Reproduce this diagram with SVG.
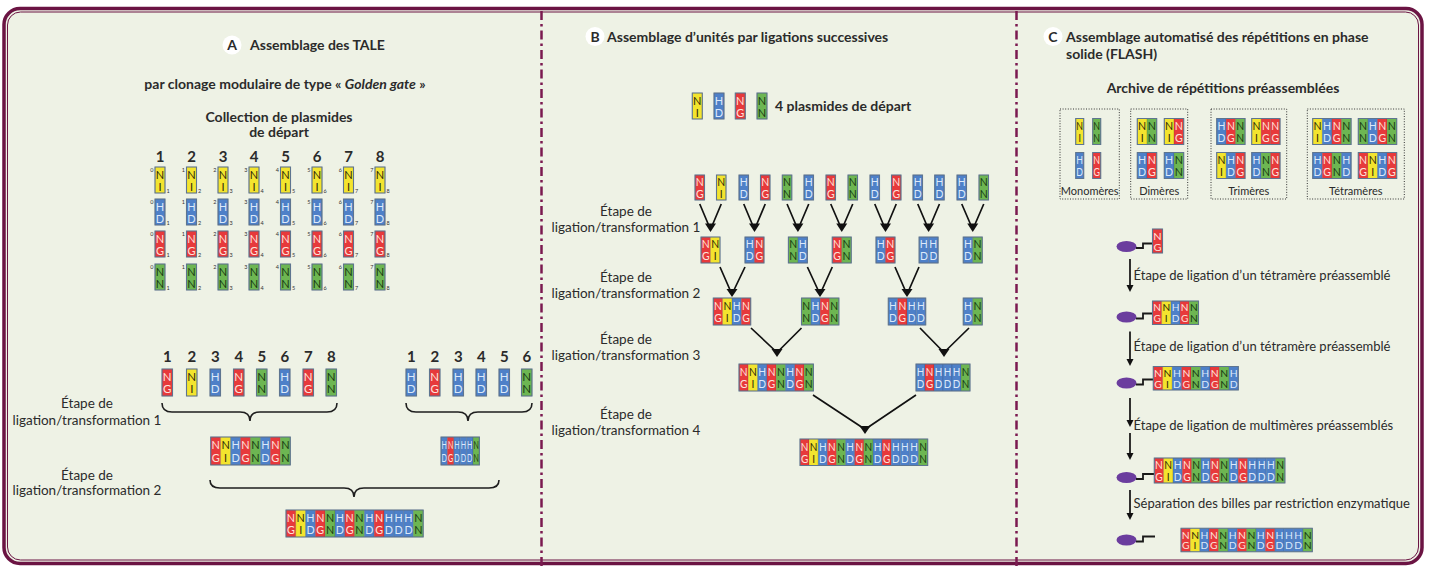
<svg xmlns="http://www.w3.org/2000/svg" xmlns:xlink="http://www.w3.org/1999/xlink" width="1431" height="567" viewBox="0 0 1431 567">
<style>
.cy{fill:#f3e42e}.cb{fill:#4e80c8}.cr{fill:#e7393b}.cg{fill:#6db652}
.cy,.cb,.cr,.cg{stroke:#000;stroke-opacity:.18;stroke-width:.6;vector-effect:non-scaling-stroke}
.ly,.lb,.lr,.lg{font-family:Lato,"Liberation Sans",sans-serif;font-size:11px;text-anchor:middle}
.ly{fill:#2f2b0c}.lb{fill:#dce9f9}.lr{fill:#fde2dc}.lg{fill:#183a12}
.ol{fill:none;stroke:#5e7590;stroke-width:1.1;vector-effect:non-scaling-stroke}
.t{font-family:Lato,"Liberation Sans",sans-serif;fill:#2b2b2b}
.h{font-weight:700;font-size:14px}
.lbl{font-size:13.5px;text-anchor:middle}
.num{font-weight:700;font-size:15px;text-anchor:middle}
.sl,.sr{font-family:Lato,"Liberation Sans",sans-serif;font-size:5.5px;fill:#333}
.sl{text-anchor:end}
.cap{font-size:11px;text-anchor:middle}
.step{font-size:13px}
.br{fill:none;stroke:#1e1e1e;stroke-width:1.6}
.ar{stroke:#111;stroke-width:1.7;fill:none}
.ah{fill:#111}
.dot{fill:none;stroke:#333;stroke-width:1;stroke-dasharray:1 1.6}
.bead{fill:#6b3d9e}
.lnk{fill:none;stroke:#1a1a1a;stroke-width:1.8}
.div{stroke:#7b1a50;stroke-width:2.5;stroke-dasharray:9 4 2.5 4}
.badge{fill:#fff}
</style>
<defs>
<g id="NI"><rect class="cy" width="10" height="26"/><text class="ly" x="5" y="11.5">N</text><text class="ly" x="5" y="23.5">I</text></g>
<g id="HD"><rect class="cb" width="10" height="26"/><text class="lb" x="5" y="11.5">H</text><text class="lb" x="5" y="23.5">D</text></g>
<g id="NG"><rect class="cr" width="10" height="26"/><text class="lr" x="5" y="11.5">N</text><text class="lr" x="5" y="23.5">G</text></g>
<g id="NN"><rect class="cg" width="10" height="26"/><text class="lg" x="5" y="11.5">N</text><text class="lg" x="5" y="23.5">N</text></g>
<g id="bNI"><use href="#NI"/><rect class="ol" width="10" height="26"/></g>
<g id="bHD"><use href="#HD"/><rect class="ol" width="10" height="26"/></g>
<g id="bNG"><use href="#NG"/><rect class="ol" width="10" height="26"/></g>
<g id="bNN"><use href="#NN"/><rect class="ol" width="10" height="26"/></g>
</defs>

<!-- page and frame -->
<rect width="1431" height="567" fill="#ffffff"/>
<rect x="4" y="8.5" width="1418" height="555" rx="16" fill="#eef2e5" stroke="#6b1443" stroke-width="3.5"/>
<rect x="7.5" y="12" width="1411" height="548" rx="13" fill="none" stroke="#6b1443" stroke-width="1"/>
<line class="div" x1="541.5" y1="11" x2="541.5" y2="567"/>
<line class="div" x1="1016.5" y1="11" x2="1016.5" y2="567"/>

<!-- ===== Panel A ===== -->
<g id="a-title" class="t">
<circle class="badge" cx="232" cy="45" r="9.5"/>
<text class="h" x="232" y="50" text-anchor="middle">A</text>
<text class="h" x="250" y="50">Assemblage des TALE</text>
<text class="h" x="285" y="89" text-anchor="middle">par clonage modulaire de type « <tspan font-style="italic">Golden gate</tspan> »</text>
<text class="h" x="279" y="122" text-anchor="middle" font-size="14.5">Collection de plasmides</text>
<text class="h" x="279" y="137" text-anchor="middle" font-size="14.5">de départ</text>
</g>

<g id="a-collection" class="t">
<g id="a-pos1"><text class="num" x="160" y="162">1</text>
<g transform="translate(155 167)"><use href="#bNI"/><text class="sl" x="-1.5" y="5">0</text><text class="sr" x="11.5" y="26">1</text></g>
<g transform="translate(155 199)"><use href="#bHD"/><text class="sl" x="-1.5" y="5">0</text><text class="sr" x="11.5" y="26">1</text></g>
<g transform="translate(155 231)"><use href="#bNG"/><text class="sl" x="-1.5" y="5">0</text><text class="sr" x="11.5" y="26">1</text></g>
<g transform="translate(155 264)"><use href="#bNN"/><text class="sl" x="-1.5" y="5">0</text><text class="sr" x="11.5" y="26">1</text></g></g>
<g id="a-pos2"><text class="num" x="191.5" y="162">2</text>
<g transform="translate(186.5 167)"><use href="#bNI"/><text class="sl" x="-1.5" y="5">1</text><text class="sr" x="11.5" y="26">2</text></g>
<g transform="translate(186.5 199)"><use href="#bHD"/><text class="sl" x="-1.5" y="5">1</text><text class="sr" x="11.5" y="26">2</text></g>
<g transform="translate(186.5 231)"><use href="#bNG"/><text class="sl" x="-1.5" y="5">1</text><text class="sr" x="11.5" y="26">2</text></g>
<g transform="translate(186.5 264)"><use href="#bNN"/><text class="sl" x="-1.5" y="5">1</text><text class="sr" x="11.5" y="26">2</text></g></g>
<g id="a-pos3"><text class="num" x="223" y="162">3</text>
<g transform="translate(218 167)"><use href="#bNI"/><text class="sl" x="-1.5" y="5">2</text><text class="sr" x="11.5" y="26">3</text></g>
<g transform="translate(218 199)"><use href="#bHD"/><text class="sl" x="-1.5" y="5">2</text><text class="sr" x="11.5" y="26">3</text></g>
<g transform="translate(218 231)"><use href="#bNG"/><text class="sl" x="-1.5" y="5">2</text><text class="sr" x="11.5" y="26">3</text></g>
<g transform="translate(218 264)"><use href="#bNN"/><text class="sl" x="-1.5" y="5">2</text><text class="sr" x="11.5" y="26">3</text></g></g>
<g id="a-pos4"><text class="num" x="254" y="162">4</text>
<g transform="translate(249 167)"><use href="#bNI"/><text class="sl" x="-1.5" y="5">3</text><text class="sr" x="11.5" y="26">4</text></g>
<g transform="translate(249 199)"><use href="#bHD"/><text class="sl" x="-1.5" y="5">3</text><text class="sr" x="11.5" y="26">4</text></g>
<g transform="translate(249 231)"><use href="#bNG"/><text class="sl" x="-1.5" y="5">3</text><text class="sr" x="11.5" y="26">4</text></g>
<g transform="translate(249 264)"><use href="#bNN"/><text class="sl" x="-1.5" y="5">3</text><text class="sr" x="11.5" y="26">4</text></g></g>
<g id="a-pos5"><text class="num" x="285.5" y="162">5</text>
<g transform="translate(280.5 167)"><use href="#bNI"/><text class="sl" x="-1.5" y="5">4</text><text class="sr" x="11.5" y="26">5</text></g>
<g transform="translate(280.5 199)"><use href="#bHD"/><text class="sl" x="-1.5" y="5">4</text><text class="sr" x="11.5" y="26">5</text></g>
<g transform="translate(280.5 231)"><use href="#bNG"/><text class="sl" x="-1.5" y="5">4</text><text class="sr" x="11.5" y="26">5</text></g>
<g transform="translate(280.5 264)"><use href="#bNN"/><text class="sl" x="-1.5" y="5">4</text><text class="sr" x="11.5" y="26">5</text></g></g>
<g id="a-pos6"><text class="num" x="317" y="162">6</text>
<g transform="translate(312 167)"><use href="#bNI"/><text class="sl" x="-1.5" y="5">5</text><text class="sr" x="11.5" y="26">6</text></g>
<g transform="translate(312 199)"><use href="#bHD"/><text class="sl" x="-1.5" y="5">5</text><text class="sr" x="11.5" y="26">6</text></g>
<g transform="translate(312 231)"><use href="#bNG"/><text class="sl" x="-1.5" y="5">5</text><text class="sr" x="11.5" y="26">6</text></g>
<g transform="translate(312 264)"><use href="#bNN"/><text class="sl" x="-1.5" y="5">5</text><text class="sr" x="11.5" y="26">6</text></g></g>
<g id="a-pos7"><text class="num" x="348.5" y="162">7</text>
<g transform="translate(343.5 167)"><use href="#bNI"/><text class="sl" x="-1.5" y="5">6</text><text class="sr" x="11.5" y="26">7</text></g>
<g transform="translate(343.5 199)"><use href="#bHD"/><text class="sl" x="-1.5" y="5">6</text><text class="sr" x="11.5" y="26">7</text></g>
<g transform="translate(343.5 231)"><use href="#bNG"/><text class="sl" x="-1.5" y="5">6</text><text class="sr" x="11.5" y="26">7</text></g>
<g transform="translate(343.5 264)"><use href="#bNN"/><text class="sl" x="-1.5" y="5">6</text><text class="sr" x="11.5" y="26">7</text></g></g>
<g id="a-pos8"><text class="num" x="380" y="162">8</text>
<g transform="translate(375 167)"><use href="#bNI"/><text class="sl" x="-1.5" y="5">7</text><text class="sr" x="11.5" y="26">8</text></g>
<g transform="translate(375 199)"><use href="#bHD"/><text class="sl" x="-1.5" y="5">7</text><text class="sr" x="11.5" y="26">8</text></g>
<g transform="translate(375 231)"><use href="#bNG"/><text class="sl" x="-1.5" y="5">7</text><text class="sr" x="11.5" y="26">8</text></g>
<g transform="translate(375 264)"><use href="#bNN"/><text class="sl" x="-1.5" y="5">7</text><text class="sr" x="11.5" y="26">8</text></g></g>
</g>

<!-- selected modules, first array (1-8) -->
<g id="a-set1" class="t">
<text class="num" x="167.3" y="362">1</text><use href="#bNG" transform="translate(162 369) scale(1.05 1.04)"/>
<text class="num" x="191.8" y="362">2</text><use href="#bNI" transform="translate(186.5 369) scale(1.05 1.04)"/>
<text class="num" x="215.3" y="362">3</text><use href="#bHD" transform="translate(210 369) scale(1.05 1.04)"/>
<text class="num" x="238.8" y="362">4</text><use href="#bNG" transform="translate(233.5 369) scale(1.05 1.04)"/>
<text class="num" x="261.8" y="362">5</text><use href="#bNN" transform="translate(256.5 369) scale(1.05 1.04)"/>
<text class="num" x="284.8" y="362">6</text><use href="#bHD" transform="translate(279.5 369) scale(1.05 1.04)"/>
<text class="num" x="308.3" y="362">7</text><use href="#bNG" transform="translate(303 369) scale(1.05 1.04)"/>
<text class="num" x="331.3" y="362">8</text><use href="#bNN" transform="translate(326 369) scale(1.05 1.04)"/>
</g>
<!-- selected modules, second array (1-6) -->
<g id="a-set2" class="t">
<text class="num" x="411.3" y="362">1</text><use href="#bHD" transform="translate(406 369) scale(1.05 1.04)"/>
<text class="num" x="434.8" y="362">2</text><use href="#bNG" transform="translate(429.5 369) scale(1.05 1.04)"/>
<text class="num" x="458.3" y="362">3</text><use href="#bHD" transform="translate(453 369) scale(1.05 1.04)"/>
<text class="num" x="481.3" y="362">4</text><use href="#bHD" transform="translate(476 369) scale(1.05 1.04)"/>
<text class="num" x="504.3" y="362">5</text><use href="#bHD" transform="translate(499 369) scale(1.05 1.04)"/>
<text class="num" x="526.8" y="362">6</text><use href="#bNN" transform="translate(521.5 369) scale(1.05 1.04)"/>
</g>

<g id="a-array1" transform="translate(210.7 437) scale(0.995 1.077)">
<use href="#NG"/><use href="#NI" x="10"/><use href="#HD" x="20"/><use href="#NG" x="30"/><use href="#NN" x="40"/><use href="#HD" x="50"/><use href="#NG" x="60"/><use href="#NN" x="70"/>
<rect class="ol" width="80" height="26"/></g>
<g id="a-array2" transform="translate(441 437) scale(0.64 1.077)">
<use href="#HD"/><use href="#NG" x="10"/><use href="#HD" x="20"/><use href="#HD" x="30"/><use href="#HD" x="40"/><use href="#NN" x="50"/>
<rect class="ol" width="60" height="26"/></g>
<g id="a-final" transform="translate(286 510) scale(0.98 1.0385)">
<use href="#NG"/><use href="#NI" x="10"/><use href="#HD" x="20"/><use href="#NG" x="30"/><use href="#NN" x="40"/><use href="#HD" x="50"/><use href="#NG" x="60"/><use href="#NN" x="70"/><use href="#HD" x="80"/><use href="#NG" x="90"/><use href="#HD" x="100"/><use href="#HD" x="110"/><use href="#HD" x="120"/><use href="#NN" x="130"/>
<rect class="ol" width="140" height="26"/></g>

<g id="a-steps" class="t">
<text class="lbl" x="87" y="408">Étape de</text>
<text class="lbl" x="87" y="424.5">ligation/transformation 1</text>
<text class="lbl" x="87" y="479.5">Étape de</text>
<text class="lbl" x="87" y="494.5">ligation/transformation 2</text>
</g>

<!-- ===== Panel B ===== -->
<g id="b-title" class="t">
<circle class="badge" cx="595" cy="36.5" r="9.5"/>
<text class="h" x="595" y="41.5" text-anchor="middle">B</text>
<text class="h" x="607" y="41.5" font-size="14.3">Assemblage d’unités par ligations successives</text>
</g>
<g id="b-start" class="t">
<use href="#bNI" x="692.3" y="93"/><use href="#bHD" x="714" y="93"/><use href="#bNG" x="735.3" y="93"/><use href="#bNN" x="757" y="93"/>
<text class="h" x="775" y="111">4 plasmides de départ</text>
</g>
<g id="b-steps" class="t">
<text class="lbl" x="626" y="216">Étape de</text><text class="lbl" x="626" y="232">ligation/transformation 1</text>
<text class="lbl" x="626" y="282">Étape de</text><text class="lbl" x="626" y="298">ligation/transformation 2</text>
<text class="lbl" x="626" y="344">Étape de</text><text class="lbl" x="626" y="360">ligation/transformation 3</text>
<text class="lbl" x="626" y="419">Étape de</text><text class="lbl" x="626" y="435">ligation/transformation 4</text>
</g>
<g id="b-row0">
<use href="#bNG" transform="translate(695 175) scale(.95 .9615)"/>
<use href="#bNI" transform="translate(716.5 175) scale(.95 .9615)"/>
<use href="#bHD" transform="translate(739 175) scale(.95 .9615)"/>
<use href="#bNG" transform="translate(760.5 175) scale(.95 .9615)"/>
<use href="#bNN" transform="translate(782.3 175) scale(.95 .9615)"/>
<use href="#bHD" transform="translate(804 175) scale(.95 .9615)"/>
<use href="#bNG" transform="translate(826 175) scale(.95 .9615)"/>
<use href="#bNN" transform="translate(848 175) scale(.95 .9615)"/>
<use href="#bHD" transform="translate(870 175) scale(.95 .9615)"/>
<use href="#bNG" transform="translate(891.5 175) scale(.95 .9615)"/>
<use href="#bHD" transform="translate(913 175) scale(.95 .9615)"/>
<use href="#bHD" transform="translate(934.7 175) scale(.95 .9615)"/>
<use href="#bHD" transform="translate(957 175) scale(.95 .9615)"/>
<use href="#bNN" transform="translate(979 175) scale(.95 .9615)"/>
</g>
<g id="b-l1-1" transform="translate(701 237) scale(.95 1)"><use href="#NG"/><use href="#NI" x="10"/><rect class="ol" width="20" height="26"/></g>
<g id="b-l1-2" transform="translate(745 237) scale(.95 1)"><use href="#HD"/><use href="#NG" x="10"/><rect class="ol" width="20" height="26"/></g>
<g id="b-l1-3" transform="translate(788.4 237) scale(.95 1)"><use href="#NN"/><use href="#HD" x="10"/><rect class="ol" width="20" height="26"/></g>
<g id="b-l1-4" transform="translate(832.25 237) scale(.95 1)"><use href="#NG"/><use href="#NN" x="10"/><rect class="ol" width="20" height="26"/></g>
<g id="b-l1-5" transform="translate(876 237) scale(.95 1)"><use href="#HD"/><use href="#NG" x="10"/><rect class="ol" width="20" height="26"/></g>
<g id="b-l1-6" transform="translate(919.1 237) scale(.95 1)"><use href="#HD"/><use href="#HD" x="10"/><rect class="ol" width="20" height="26"/></g>
<g id="b-l1-7" transform="translate(963.25 237) scale(.95 1)"><use href="#HD"/><use href="#NN" x="10"/><rect class="ol" width="20" height="26"/></g>
<g id="b-l2-1" transform="translate(713.3 298) scale(.935 1.0385)"><use href="#NG"/><use href="#NI" x="10"/><use href="#HD" x="20"/><use href="#NG" x="30"/><rect class="ol" width="40" height="26"/></g>
<g id="b-l2-2" transform="translate(801.5 298) scale(.935 1.0385)"><use href="#NN"/><use href="#HD" x="10"/><use href="#NG" x="20"/><use href="#NN" x="30"/><rect class="ol" width="40" height="26"/></g>
<g id="b-l2-3" transform="translate(888.3 298) scale(.935 1.0385)"><use href="#HD"/><use href="#NG" x="10"/><use href="#HD" x="20"/><use href="#HD" x="30"/><rect class="ol" width="40" height="26"/></g>
<g id="b-l2-4" transform="translate(963.25 298) scale(.95 1.0385)"><use href="#HD"/><use href="#NN" x="10"/><rect class="ol" width="20" height="26"/></g>
<g id="b-l3-1" transform="translate(739 364) scale(.93 1.0385)"><use href="#NG"/><use href="#NI" x="10"/><use href="#HD" x="20"/><use href="#NG" x="30"/><use href="#NN" x="40"/><use href="#HD" x="50"/><use href="#NG" x="60"/><use href="#NN" x="70"/><rect class="ol" width="80" height="26"/></g>
<g id="b-l3-2" transform="translate(916 364) scale(.9 1.0385)"><use href="#HD"/><use href="#NG" x="10"/><use href="#HD" x="20"/><use href="#HD" x="30"/><use href="#HD" x="40"/><use href="#NN" x="50"/><rect class="ol" width="60" height="26"/></g>
<g id="b-final" transform="translate(800 439) scale(.912 1.019)">
<use href="#NG"/><use href="#NI" x="10"/><use href="#HD" x="20"/><use href="#NG" x="30"/><use href="#NN" x="40"/><use href="#HD" x="50"/><use href="#NG" x="60"/><use href="#NN" x="70"/><use href="#HD" x="80"/><use href="#NG" x="90"/><use href="#HD" x="100"/><use href="#HD" x="110"/><use href="#HD" x="120"/><use href="#NN" x="130"/>
<rect class="ol" width="140" height="26"/></g>

<!-- ===== Panel C ===== -->
<g id="c-title" class="t">
<circle class="badge" cx="1053" cy="36.5" r="9.5"/>
<text class="h" x="1053" y="41.5" text-anchor="middle">C</text>
<text class="h" x="1066" y="41.5">Assemblage automatisé des répétitions en phase</text>
<text class="h" x="1066" y="59">solide (FLASH)</text>
<text class="h" x="1223" y="93" text-anchor="middle">Archive de répétitions préassemblées</text>
</g>
<g id="c-mono" class="t">
<rect class="dot" x="1060" y="109" width="59.3" height="90"/>
<use href="#bNI" transform="translate(1075.7 118.5) scale(.8 1)"/>
<use href="#bNN" transform="translate(1092.7 118.5) scale(.8 1)"/>
<use href="#bHD" transform="translate(1075.7 152.5) scale(.8 1)"/>
<use href="#bNG" transform="translate(1092.7 152.5) scale(.8 1)"/>
<text class="cap" x="1089.7" y="194.5">Monomères</text>
</g>
<g id="c-di" class="t">
<rect class="dot" x="1130.7" y="109" width="57" height="90"/>
<g transform="translate(1137.3 118.5) scale(.97 1)"><use href="#NI"/><use href="#NN" x="10"/><rect class="ol" width="20" height="26"/></g>
<g transform="translate(1164.3 118.5) scale(.97 1)"><use href="#NI"/><use href="#NG" x="10"/><rect class="ol" width="20" height="26"/></g>
<g transform="translate(1137.3 152.5) scale(.97 1)"><use href="#HD"/><use href="#NG" x="10"/><rect class="ol" width="20" height="26"/></g>
<g transform="translate(1164.3 152.5) scale(.97 1)"><use href="#HD"/><use href="#NN" x="10"/><rect class="ol" width="20" height="26"/></g>
<text class="cap" x="1159.2" y="194.5">Dimères</text>
</g>
<g id="c-tri" class="t">
<rect class="dot" x="1211" y="109" width="75.7" height="90"/>
<g transform="translate(1216.7 118.5) scale(.945 1)"><use href="#HD"/><use href="#NG" x="10"/><use href="#NN" x="20"/><rect class="ol" width="30" height="26"/></g>
<g transform="translate(1251.7 118.5) scale(.945 1)"><use href="#NI"/><use href="#NG" x="10"/><use href="#NG" x="20"/><rect class="ol" width="30" height="26"/></g>
<g transform="translate(1216.7 152.5) scale(.945 1)"><use href="#NI"/><use href="#HD" x="10"/><use href="#NG" x="20"/><rect class="ol" width="30" height="26"/></g>
<g transform="translate(1251.7 152.5) scale(.945 1)"><use href="#HD"/><use href="#NN" x="10"/><use href="#NG" x="20"/><rect class="ol" width="30" height="26"/></g>
<text class="cap" x="1248.8" y="194.5">Trimères</text>
</g>
<g id="c-tetra" class="t">
<rect class="dot" x="1307.3" y="109" width="97" height="90"/>
<g transform="translate(1312.7 118.5) scale(.96 1)"><use href="#NI"/><use href="#HD" x="10"/><use href="#NG" x="20"/><use href="#NN" x="30"/><rect class="ol" width="40" height="26"/></g>
<g transform="translate(1358.3 118.5) scale(.96 1)"><use href="#NN"/><use href="#HD" x="10"/><use href="#NG" x="20"/><use href="#NN" x="30"/><rect class="ol" width="40" height="26"/></g>
<g transform="translate(1312.7 152.5) scale(.96 1)"><use href="#HD"/><use href="#NG" x="10"/><use href="#NN" x="20"/><use href="#HD" x="30"/><rect class="ol" width="40" height="26"/></g>
<g transform="translate(1358.3 152.5) scale(.96 1)"><use href="#NG"/><use href="#NI" x="10"/><use href="#HD" x="20"/><use href="#NG" x="30"/><rect class="ol" width="40" height="26"/></g>
<text class="cap" x="1355.8" y="194.5">Tétramères</text>
</g>

<!-- beads with growing arrays -->
<g id="c-bead1">
<ellipse class="bead" cx="1126.5" cy="246.5" rx="10" ry="5.5"/>
<path class="lnk" d="M1136 248H1143V243.5H1153"/>
<use href="#bNG" transform="translate(1152.5 229) scale(1 .923)"/>
</g>
<g id="c-bead2">
<ellipse class="bead" cx="1126.5" cy="317" rx="10" ry="5.5"/>
<path class="lnk" d="M1136 318.5H1143V313.5H1153"/>
<g transform="translate(1152.5 301) scale(.92 .904)"><use href="#NG"/><use href="#NI" x="10"/><use href="#HD" x="20"/><use href="#NG" x="30"/><use href="#NN" x="40"/><rect class="ol" width="50" height="26"/></g>
</g>
<g id="c-bead3">
<ellipse class="bead" cx="1126.5" cy="383" rx="10" ry="5.5"/>
<path class="lnk" d="M1136 384.5H1143V379.5H1153"/>
<g transform="translate(1153.3 366.5) scale(.945 .904)"><use href="#NG"/><use href="#NI" x="10"/><use href="#HD" x="20"/><use href="#NG" x="30"/><use href="#NN" x="40"/><use href="#HD" x="50"/><use href="#NG" x="60"/><use href="#NN" x="70"/><use href="#HD" x="80"/><rect class="ol" width="90" height="26"/></g>
</g>
<g id="c-bead4">
<ellipse class="bead" cx="1126.5" cy="477.5" rx="10" ry="5.5"/>
<path class="lnk" d="M1136 479H1143V474H1154"/>
<g transform="translate(1154.3 458) scale(.933 .9615)"><use href="#NG"/><use href="#NI" x="10"/><use href="#HD" x="20"/><use href="#NG" x="30"/><use href="#NN" x="40"/><use href="#HD" x="50"/><use href="#NG" x="60"/><use href="#NN" x="70"/><use href="#HD" x="80"/><use href="#NG" x="90"/><use href="#HD" x="100"/><use href="#HD" x="110"/><use href="#HD" x="120"/><use href="#NN" x="130"/><rect class="ol" width="140" height="26"/></g>
</g>
<g id="c-bead5">
<ellipse class="bead" cx="1126.5" cy="540" rx="10" ry="5.5"/>
<path class="lnk" d="M1136 541.5H1143V536.5H1155"/>
</g>
<g id="c-released" transform="translate(1181 528.3) scale(.938 .9)">
<use href="#NG"/><use href="#NI" x="10"/><use href="#HD" x="20"/><use href="#NG" x="30"/><use href="#NN" x="40"/><use href="#HD" x="50"/><use href="#NG" x="60"/><use href="#NN" x="70"/><use href="#HD" x="80"/><use href="#NG" x="90"/><use href="#HD" x="100"/><use href="#HD" x="110"/><use href="#HD" x="120"/><use href="#NN" x="130"/>
<rect class="ol" width="140" height="26"/></g>
<g id="c-steps" class="t step">
<text x="1133.5" y="279.5">Étape de ligation d’un tétramère préassemblé</text>
<text x="1133.5" y="351">Étape de ligation d’un tétramère préassemblé</text>
<text x="1133.5" y="429.5">Étape de ligation de multimères préassemblés</text>
<text x="1133.5" y="507.5">Séparation des billes par restriction enzymatique</text>
</g>

<!-- connectors -->
<g id="connectors">
<path class="br" d="M162 403Q162 412 172 412H240Q250 412 250 421Q250 412 260 412H327Q337 412 337 403"/>
<path class="br" d="M406 403Q406 412 416 412H458Q468 412 468 421Q468 412 478 412H522Q532 412 532 403"/>
<path class="br" d="M210 480Q210 488 220 488H344Q354 488 354 497Q354 488 364 488H489Q499 488 499 480"/>

<path class="ar" d="M699.75 204L709 226M721.25 204L712 226"/><polygon class="ah" points="705,223.5 716,223.5 710.5,232"/>
<path class="ar" d="M743.75 204L753 226M765.25 204L756 226"/><polygon class="ah" points="749,223.5 760,223.5 754.5,232"/>
<path class="ar" d="M787.05 204L796.4 226M808.75 204L799.4 226"/><polygon class="ah" points="792.4,223.5 803.4,223.5 797.9,232"/>
<path class="ar" d="M830.75 204L840.25 226M852.75 204L843.25 226"/><polygon class="ah" points="836.25,223.5 847.25,223.5 841.75,232"/>
<path class="ar" d="M874.75 204L884 226M896.25 204L887 226"/><polygon class="ah" points="880,223.5 891,223.5 885.5,232"/>
<path class="ar" d="M917.75 204L927.1 226M939.45 204L930.1 226"/><polygon class="ah" points="923.1,223.5 934.1,223.5 928.6,232"/>
<path class="ar" d="M961.75 204L971.25 226M983.75 204L974.25 226"/><polygon class="ah" points="967.25,223.5 978.25,223.5 972.75,232"/>

<path class="ar" d="M720 267L730.5 291M745 267L733.5 291"/><polygon class="ah" points="726.5,289 737.5,289 732,297"/>
<path class="ar" d="M807.4 267L818.5 291M832.3 267L821.5 291"/><polygon class="ah" points="814.5,289 825.5,289 820,297"/>
<path class="ar" d="M895 267L905.5 291M919 267L908.5 291"/><polygon class="ah" points="901.5,289 912.5,289 907,297"/>

<path class="ar" d="M751 328L775.5 351M801.5 328L778.5 351"/><polygon class="ah" points="771.5,349 782.5,349 777,357"/>
<path class="ar" d="M920 328L942.5 351M969 328L945.5 351"/><polygon class="ah" points="938.5,349 949.5,349 944,357"/>

<path class="ar" d="M813 395L863 428M916 395L867 428"/><polygon class="ah" points="859.5,426 870.5,426 865,434"/>

<path class="ar" d="M1130 259V287M1130 331.5V361M1130 398V422M1130 433V455M1130 490V515"/>
<polygon class="ah" points="1126.5,285 1133.5,285 1130,292"/>
<polygon class="ah" points="1126.5,359 1133.5,359 1130,366"/>
<polygon class="ah" points="1126.5,420 1133.5,420 1130,427"/>
<polygon class="ah" points="1126.5,453 1133.5,453 1130,460"/>
<polygon class="ah" points="1126.5,513 1133.5,513 1130,520"/>
</g>
</svg>
